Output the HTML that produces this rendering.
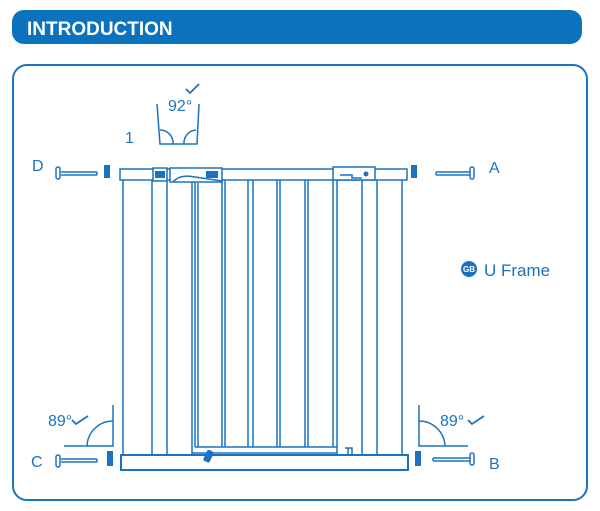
<!DOCTYPE html>
<html><head><meta charset="utf-8"><style>
html,body{margin:0;padding:0;background:#fff;}
svg{display:block;}
text{font-family:"Liberation Sans",sans-serif;fill:#1a73c0;}
</style></head><body>
<svg width="600" height="511" viewBox="0 0 600 511" xmlns="http://www.w3.org/2000/svg">
<rect x="12" y="10" width="570" height="34" rx="12" fill="#0b72bd"/>
<text x="27" y="35" font-size="19" font-weight="bold" style="fill:#fff">INTRODUCTION</text>
<rect x="13" y="65" width="574" height="435" rx="14" fill="none" stroke="#1a73c0" stroke-width="2"/>
<g stroke="#1a73c0" fill="none" stroke-width="1.5">
<path d="M157 104 L160 144 L197 144 L199 104"/>
<path d="M160 130 A13 13 0 0 1 173 144"/>
<path d="M184 144 A13 13 0 0 1 196 130"/>
<path d="M186 89 L190 93 L199 84" stroke-width="1.8"/>
<rect x="120" y="169" width="287" height="11"/>
<rect x="153" y="168" width="14" height="13" fill="#fff"/>
<rect x="170" y="168" width="52" height="14" fill="#fff"/>
<path d="M173 182 Q180 174 195 177 L222 181" />
<rect x="333" y="167" width="42" height="13" fill="#fff"/>
<path d="M340 175 L352 175 L352 178 L362 178"/>
<path d="M123 180V456 M152 180V456 M167 181V456 M192 182V455 M195 182V447 M198 183V447 M222 181V447 M225 180V447 M248 180V447 M253 180V447 M277 180V447 M280 180V447 M305 180V447 M308 180V447 M333 180V447 M337 180V455 M362 180V456 M377 180V456 M402 180V456"/>
<path d="M195 447 L337 447 M192 453 L337 453"/>
<path d="M345 448 H352 V455 M348 448 V455"/>
<rect x="121" y="455" width="287" height="15" stroke-width="2"/>
<path d="M64 446 L113 446 L113 405"/>
<path d="M87 446 A26 26 0 0 1 113 421"/>
<path d="M72 420 L76 424 L88 416" stroke-width="1.8"/>
<path d="M419 405 L419 446 L468 446"/>
<path d="M419 421 A26 26 0 0 1 445 446"/>
<path d="M468 420 L472 424 L484 416" stroke-width="1.8"/>
<path d="M61 172 H97 M61 175 H97 M97 172 V175"/>
<rect x="56" y="167" width="4" height="12" rx="2"/>
<path d="M436 172 H470 M436 175 H470 M436 172 V175"/>
<rect x="470" y="167" width="4" height="12" rx="2"/>
<path d="M61 459 H97 M61 462 H97 M97 459 V462"/>
<rect x="56" y="455" width="4" height="12" rx="2"/>
<path d="M433 458 H470 M433 461 H470 M433 458 V461"/>
<rect x="470" y="453" width="4" height="12" rx="2"/>
</g>
<g fill="#1a73c0">
<rect x="104" y="165" width="6" height="13"/>
<rect x="411" y="165" width="6" height="13"/>
<rect x="107" y="451" width="6" height="15"/>
<rect x="415" y="451" width="6" height="15"/>
<rect x="155" y="171" width="10" height="7"/>
<rect x="206" y="171" width="12" height="7"/>
<circle cx="366" cy="174" r="2.5"/>
<rect x="205" y="450" width="7" height="12" rx="2" transform="rotate(25 208 456)"/>
<circle cx="469" cy="269" r="8"/>
</g>
<text x="125" y="143" font-size="16">1</text>
<text x="168" y="111" font-size="16">92°</text>
<text x="48" y="426" font-size="16">89°</text>
<text x="440" y="426" font-size="16">89°</text>
<text x="32" y="171" font-size="16">D</text>
<text x="489" y="173" font-size="16">A</text>
<text x="31" y="467" font-size="16">C</text>
<text x="489" y="469" font-size="16">B</text>
<text x="463" y="272" font-size="8" font-weight="bold" style="fill:#fff">GB</text>
<text x="484" y="276" font-size="17">U Frame</text>
</svg>
</body></html>
